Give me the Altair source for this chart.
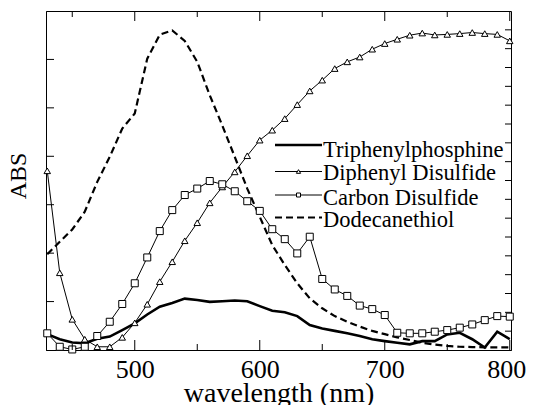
import altair as alt
import pandas as pd

# ---------------- data ----------------
wavelength = [430, 440, 450, 460, 470, 480, 490, 500, 510, 520,
              530, 540, 550, 560, 570, 580, 590, 600, 610, 620,
              630, 640, 650, 660, 670, 680, 690, 700, 710, 720,
              730, 740, 750, 760, 770, 780, 790, 800]

triphenylphosphine = [5.9, 4.0, 2.8, 2.5, 4.2, 5.0, 7.4, 9.9, 13.2, 16.1,
                      17.5, 19.1, 18.6, 17.9, 18.1, 18.4, 18.1, 16.3, 14.6, 14.0,
                      12.6, 9.3, 8.0, 7.1, 6.2, 5.2, 4.0, 3.3, 2.7, 2.1,
                      3.3, 3.3, 5.8, 6.4, 4.0, 0.9, 6.8, 4.0]

diphenyl_disulfide = [66.6, 28.7, 11.4, 4.0, 1.2, 1.2, 4.7, 10.1, 17.0, 25.4,
                      32.8, 40.6, 47.3, 54.7, 60.6, 66.2, 72.2, 78.0, 81.7, 86.0,
                      91.2, 96.3, 100.3, 104.6, 107.1, 108.9, 111.8, 113.9, 115.5, 117.0,
                      117.8, 117.1, 117.3, 117.6, 118.0, 117.6, 117.3, 114.9]

carbon_disulfide = [6.2, 1.2, 0.2, 1.2, 5.2, 10.5, 17.1, 24.8, 34.4, 44.2,
                    52.0, 57.6, 60.0, 62.8, 61.6, 59.0, 55.3, 51.7, 44.9, 41.2,
                    35.9, 42.1, 26.4, 22.5, 20.1, 16.5, 15.2, 13.0, 6.4, 6.2,
                    6.2, 6.8, 7.4, 8.3, 9.5, 11.1, 12.6, 12.4]

dodecanethiol = [35.6, 40.2, 44.8, 51.4, 62.5, 71.8, 82.3, 87.9, 108.3, 117.2,
                 118.8, 114.9, 107.1, 94.7, 83.5, 71.8, 60.0, 49.5, 39.0, 31.6,
                 24.8, 19.2, 15.5, 12.6, 10.5, 8.7, 7.1, 5.9, 4.7, 3.7,
                 2.7, 2.0, 1.5, 1.2, 1.1, 1.0, 1.0, 1.0]

series_names = ["Triphenylphosphine", "Diphenyl Disulfide",
                "Carbon Disulfide", "Dodecanethiol"]

x_major_ticks = [500, 600, 700, 800]
x_minor_ticks = [450, 550, 650, 750]
y_left_ticks = [18, 36, 54, 72, 90, 108]
y_right_ticks = [7, 14, 21, 28, 35, 42, 49, 56, 63, 70, 77, 84,
                 91, 98, 105, 112, 119]

# ---------------- layout ----------------
FONT = "Liberation Serif"
W, H = 465, 339
X_DOMAIN = [429, 801]
Y_DOMAIN = [0, 126]

xs = alt.Scale(domain=X_DOMAIN, nice=False, zero=False)
ys = alt.Scale(domain=Y_DOMAIN, nice=False, zero=False)


def frame(vals):
    return pd.DataFrame({"wl": wavelength, "abs": vals})


x_axis = alt.Axis(values=x_major_ticks, ticks=False, tickSize=0, grid=False,
                  labelFont=FONT, labelFontSize=26, labelColor="black",
                  labelPadding=27, labelBaseline="alphabetic",
                  labelFlush=3, labelFlushOffset=16,
                  domainColor="black", domainWidth=1,
                  title="wavelength (nm)", titleFont=FONT, titleFontSize=28,
                  titleFontWeight="normal", titleColor="black",
                  titleBaseline="alphabetic", titleY=51)
y_axis = alt.Axis(labels=False, ticks=False, grid=False,
                  domainColor="black", domainWidth=1,
                  title="ABS", titleFont=FONT, titleFontSize=24,
                  titleFontWeight="normal", titleColor="black",
                  titleBaseline="alphabetic", titleX=-21, titleY=164.5)

x_enc = alt.X("wl:Q", scale=xs, axis=x_axis)
y_enc = alt.Y("abs:Q", scale=ys, axis=y_axis)

layers = []

# series
layers.append(alt.Chart(frame(triphenylphosphine)).mark_line(
    color="black", strokeWidth=2.6).encode(x=x_enc, y=y_enc))
layers.append(alt.Chart(frame(dodecanethiol)).mark_line(
    color="black", strokeWidth=2.2, strokeDash=[7, 4]).encode(x=x_enc, y=y_enc))
layers.append(alt.Chart(frame(diphenyl_disulfide)).mark_line(
    color="black", strokeWidth=1).encode(x=x_enc, y=y_enc))
layers.append(alt.Chart(frame(carbon_disulfide)).mark_line(
    color="black", strokeWidth=1).encode(x=x_enc, y=y_enc))
layers.append(alt.Chart(frame(diphenyl_disulfide)).mark_point(
    shape="triangle-up", filled=True, fill="white", stroke="black",
    strokeWidth=1, size=42, opacity=1).encode(x=x_enc, y=y_enc))
layers.append(alt.Chart(frame(carbon_disulfide)).mark_point(
    shape="square", filled=True, fill="white", stroke="black",
    strokeWidth=1, size=49, opacity=1).encode(x=x_enc, y=y_enc))

# inward tick marks
xt_major = pd.DataFrame({"wl": x_major_ticks})
xt_minor = pd.DataFrame({"wl": x_minor_ticks})
for df, ln in ((xt_major, 10), (xt_minor, 6)):
    layers.append(alt.Chart(df).mark_rule(color="black", strokeWidth=1).encode(
        x=x_enc, y=alt.value(H), y2=alt.value(H - ln)))
    layers.append(alt.Chart(df).mark_rule(color="black", strokeWidth=1).encode(
        x=x_enc, y=alt.value(0), y2=alt.value(ln)))

yl = pd.DataFrame({"abs": y_left_ticks})
yr = pd.DataFrame({"abs": y_right_ticks})
layers.append(alt.Chart(yl).mark_rule(color="black", strokeWidth=1).encode(
    y=y_enc, x=alt.value(0), x2=alt.value(8)))
layers.append(alt.Chart(yr).mark_rule(color="black", strokeWidth=1).encode(
    y=y_enc, x=alt.value(W), x2=alt.value(W - 6)))

# legend (drawn by hand)
LX1, LX2, LTX = 229, 276, 277
leg_line_y = [134, 160.5, 184, 206.5]
leg_text_y = [145.5, 169, 193.5, 216]
leg_styles = [
    dict(strokeWidth=2.6),
    dict(strokeWidth=1),
    dict(strokeWidth=1),
    dict(strokeWidth=2.2, strokeDash=[7, 4]),
]
leg_df = pd.DataFrame({"label": series_names})
for i, name in enumerate(series_names):
    one = leg_df.iloc[[i]]
    layers.append(alt.Chart(one).mark_rule(color="black", **leg_styles[i]).encode(
        x=alt.value(LX1), x2=alt.value(LX2), y=alt.value(leg_line_y[i])))
    layers.append(alt.Chart(one).mark_text(
        font=FONT, fontSize=22.5, align="left", baseline="alphabetic",
        color="black").encode(
        x=alt.value(LTX), y=alt.value(leg_text_y[i]), text="label:N"))
layers.append(alt.Chart(leg_df.iloc[[1]]).mark_point(
    shape="triangle-up", filled=True, fill="white", stroke="black",
    strokeWidth=1, size=18, opacity=1).encode(
    x=alt.value((LX1 + LX2) / 2), y=alt.value(leg_line_y[1])))
layers.append(alt.Chart(leg_df.iloc[[2]]).mark_point(
    shape="square", filled=True, fill="white", stroke="black",
    strokeWidth=1, size=16, opacity=1).encode(
    x=alt.value((LX1 + LX2) / 2), y=alt.value(leg_line_y[2])))

chart = alt.layer(*layers).properties(
    width=W, height=H,
    autosize=alt.AutoSizeParams(type="none"),
    padding={"left": 38, "top": 3, "right": 15, "bottom": 55},
    background="white",
).configure_view(stroke="black", strokeWidth=1)

chart.save("out.html", embed_options={"renderer": "svg", "actions": False})
